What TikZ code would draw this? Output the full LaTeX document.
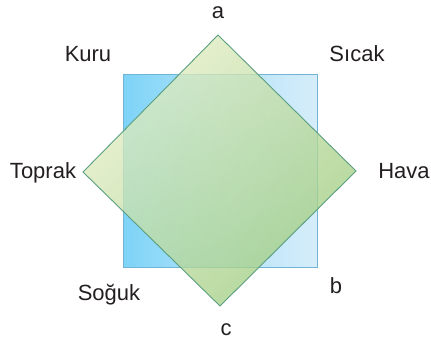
\documentclass[tikz,border=0pt]{standalone}
\usepackage{fontspec}
\setmainfont{Liberation Sans}
\usepackage{tikz}
\usetikzlibrary{positioning}
\definecolor{sq-left}{HTML}{7DD3F7}
\definecolor{sq-right}{HTML}{D6EDFA}
\definecolor{sq-line}{HTML}{72B4D6}
\definecolor{dm-light}{HTML}{E6EFC8}
\definecolor{dm-dark}{HTML}{9CCB7E}
\definecolor{dm-line}{HTML}{5A9E80}
\definecolor{lbl-text}{HTML}{231F20}

\begin{document}
\begin{tikzpicture}[x=1pt, y=-1pt,
    lbl/.style={lbl-text, font=\fontsize{22}{26}\selectfont, anchor=base, inner sep=0pt}]
    \useasboundingbox (0,0) rectangle (431,341);
    % square
    \shade[left color=sq-left, right color=sq-right, middle color=sq-right!60!sq-left] (123,74) rectangle (317,267);
    \draw[sq-line, line width=1pt] (123,74) rectangle (317,267);
    % diamond
    \coordinate (top) at (218,35);
    \coordinate (right) at (356,171);
    \coordinate (bottom) at (220,306);
    \coordinate (left) at (83,172);
    \shade[top color=dm-light, bottom color=dm-dark, shading angle=45, fill opacity=0.78]
        (top) -- (right) -- (bottom) -- (left) -- cycle;
    \draw[dm-line, line width=0.9pt] (top) -- (right) -- (bottom) -- (left) -- cycle;
    % labels
    \node[lbl] (a) at (218,18) {a};
    \node[lbl] (kuru) at (88,61) {Kuru};
    \node[lbl] (sicak) at (357,61) {Sıcak};
    \node[lbl] (toprak) at (43,178) {Toprak};
    \node[lbl] (hava) at (404,178) {Hava};
    \node[lbl] (soguk) at (109,300) {Soğuk};
    \node[lbl] (b) at (336,293) {b};
    \node[lbl] (c) at (226,335) {c};
\end{tikzpicture}
\end{document}
